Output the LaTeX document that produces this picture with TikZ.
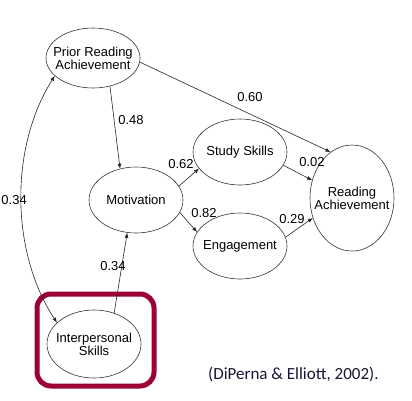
\documentclass[tikz,border=0pt]{standalone}
\usepackage{fontspec}
\setmainfont{Liberation Sans}
\newfontfamily\citefont{Carlito}
\usepackage{xcolor}
\usepackage{tikz}
\usetikzlibrary{arrows.meta, shapes.geometric}
\definecolor{boxred}{RGB}{155,0,54}
\definecolor{citeblue}{RGB}{22,22,50}
\tikzset{
    var/.style={draw=black!80, ellipse, line width=0.6pt, inner sep=0pt,
                minimum width=94pt, minimum height=66pt},
    vartxt/.style={align=center, inner sep=0pt, font=\fontsize{13}{11.5}\selectfont},
    arr/.style={-{Latex[length=5pt, width=4pt]}, line width=0.6pt, black!85},
    dbl/.style={{Latex[length=5pt, width=4pt]}-{Latex[length=5pt, width=4pt]}, line width=0.6pt, black!85},
    lab/.style={font=\fontsize{13}{13}\selectfont, inner sep=0pt},
}

\begin{document}
\begin{tikzpicture}[x=1pt, y=-1pt]
    \useasboundingbox (0,0) rectangle (412,400);
    % variables
    \node[var, minimum height=60pt, label={[vartxt]center:Prior Reading\\Achievement}] (prior) at (93,58) {};
    \node[var, label={[vartxt]center:Motivation}] (motiv) at (136,200) {};
    \node[var, label={[vartxt]center:Study Skills}] (study) at (240,152) {};
    \node[var, label={[vartxt]center:Engagement}] (engage) at (240,246) {};
    \node[var, minimum width=84pt, minimum height=106pt, label={[vartxt]center:Reading\\Achievement}] (reading) at (352,198) {};
    \node[var, minimum height=68pt, label={[vartxt]center:Interpersonal\\Skills}] (interp) at (94,344) {};
    % highlight box
    \draw[boxred, line width=5pt, rounded corners=14pt] (37,294) rectangle (154,386);
    % paths
    \draw[arr] (prior.-5) -- (reading.115);
    \draw[arr] (prior.-59) -- (motiv.117);
    \draw[arr] (motiv.18) -- (study.202);
    \draw[arr] (motiv.-16) -- (engage.162);
    \draw[arr] (study.-17) -- (reading.156);
    \draw[arr] (engage.11) -- (reading.207);
    \draw[arr] (interp.57) -- (motiv.255);
    \draw[dbl] (interp.150) .. controls (12,255) and (8,150) .. (prior.205);
    % coefficients
    \node[lab] (c60) at (250,97) {0.60};
    \node[lab] (c48) at (131,120) {0.48};
    \node[lab] (c62) at (181,164) {0.62};
    \node[lab] (c02) at (312,162) {0.02};
    \node[lab] (c82) at (204,213) {0.82};
    \node[lab] (c29) at (292,219) {0.29};
    \node[lab] (c34) at (113,266) {0.34};
    \node[lab, anchor=east] (c34b) at (27,200) {0.34};
    % source
    \node[font=\citefont\fontsize{17}{18}\selectfont, text=citeblue, anchor=west, inner sep=0pt] (cite) at (208,374) {(DiPerna \& Elliott, 2002).};
\end{tikzpicture}
\end{document}
